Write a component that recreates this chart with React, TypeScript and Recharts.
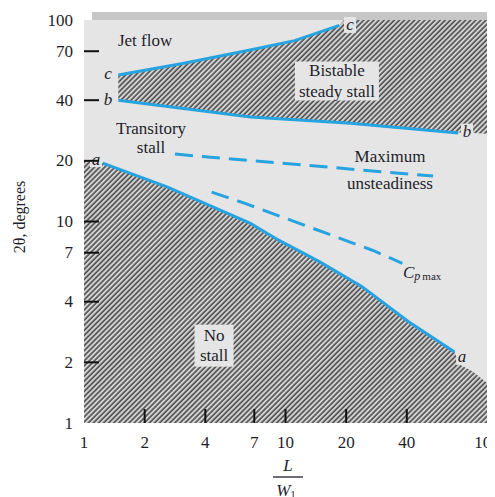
import { ComposedChart, Area, Line, XAxis, YAxis, CartesianGrid, ReferenceDot } from 'recharts';

const FONT = '"Liberation Serif", "Times New Roman", serif';
const INK = '#1e1e2a';
const PANEL = '#e5e5e5';
const SHADOW = '#c6c6c6';
const BLUE = '#27a4e0';

const xTicks = [1, 2, 4, 7, 10, 20, 40, 100];
const yTicks = [1, 2, 4, 7, 10, 20, 40, 70, 100];

// stall boundary lines (x = L/W1, y = 2θ in degrees)
const lineA = [
  { x: 1.24, y: 19.5 },
  { x: 2.6, y: 14.8 },
  { x: 6.7, y: 9.8 },
  { x: 9.2, y: 8.1 },
  { x: 14.8, y: 6.3 },
  { x: 24, y: 4.75 },
  { x: 40.5, y: 3.2 },
  { x: 69, y: 2.25 },
];
const lineB = [
  { x: 1.48, y: 40 },
  { x: 6.7, y: 33 },
  { x: 21, y: 30.7 },
  { x: 72, y: 27.5 },
];
const lineC = [
  { x: 1.48, y: 53.3 },
  { x: 3.13, y: 61 },
  { x: 6.67, y: 71 },
  { x: 11.1, y: 79 },
  { x: 18.5, y: 94 },
];
const maxUnsteadiness = [
  { x: 2.83, y: 21.6 },
  { x: 54, y: 16.8 },
];
const cpMax = [
  { x: 4.3, y: 14 },
  { x: 6.3, y: 12.3 },
  { x: 27, y: 7.2 },
  { x: 38, y: 6.2 },
];

// edges of the hatched regions
const noStallEdge = [
  { x: 1, y: 20 },
  ...lineA,
  { x: 73, y: 1.95 },
  { x: 85, y: 1.8 },
  { x: 100, y: 1.58 },
];
const bistableTop = [...lineC, { x: 19.5, y: 100 }, { x: 100, y: 100 }];
// plain panel below line b (hides the lower part of the hatch above)
const bistableBottom = [{ x: 1, y: 40 }, ...lineB, { x: 100, y: 27 }];

// region names
const notes = [
  { lines: ['Jet flow'], x: 2.01, y: 78.7, gap: 0, box: null },
  { lines: ['Transitory', 'stall'], x: 2.15, y: 26.1, gap: 19, box: null },
  { lines: ['Bistable', 'steady stall'], x: 18, y: 49.8, gap: 21, box: [84, 39] },
  { lines: ['Maximum', 'unsteadiness'], x: 33, y: 18.1, gap: 27, box: null },
  { lines: ['No', 'stall'], x: 4.42, y: 2.42, gap: 20, box: [39, 42] },
];
// curve letters
const letters = [
  { text: 'c', x: 1.315, y: 54 },
  { text: 'b', x: 1.315, y: 40.5 },
  { text: 'a', x: 1.147, y: 20.4 },
  { text: 'c', x: 20.9, y: 94.5 },
  { text: 'b', x: 79.6, y: 27.9 },
  { text: 'a', x: 75.2, y: 2.13 },
];

const YTick = ({ x, y, payload }: any) => (
  <g>
    {payload.value !== 1 && payload.value !== 100 && (
      <line x1={x} x2={x + 15} y1={y} y2={y} stroke="#111" strokeWidth={2} />
    )}
    <text x={x - 11} y={y} textAnchor="end" dominantBaseline="central" fontFamily={FONT} fontSize={17} fill={INK}>
      {payload.value}
    </text>
  </g>
);

const XTick = ({ x, y, payload }: any) => (
  <g>
    {payload.value !== 1 && payload.value !== 100 && (
      <line x1={x} x2={x} y1={y} y2={y - 14} stroke="#111" strokeWidth={2} />
    )}
    <text x={x} y={y + 19} textAnchor="middle" dominantBaseline="central" fontFamily={FONT} fontSize={17} fill={INK}>
      {payload.value}
    </text>
  </g>
);

const XTitle = () => (
  <g fontFamily={FONT} fill={INK}>
    <text x={280} y={457} textAnchor="middle" dominantBaseline="central" fontStyle="italic" fontSize={17}>
      L
    </text>
    <line x1={265} x2={295} y1={469} y2={469} stroke={INK} strokeWidth={1.3} />
    <text x={278} y={482} textAnchor="middle" dominantBaseline="central" fontStyle="italic" fontSize={17}>
      W<tspan fontStyle="normal" fontSize={11} dy={4}>1</tspan>
    </text>
  </g>
);

const YTitle = () => (
  <text
    x={11}
    y={209}
    transform="rotate(-90 11 209)"
    textAnchor="middle"
    dominantBaseline="central"
    fontFamily={FONT}
    fontSize={16}
    fill={INK}
  >
    2θ, degrees
  </text>
);

const noteShape = (n: any) => (p: any) => (
  <g fontFamily={FONT} fontSize={17} fill={INK}>
    {n.box && (
      <rect x={p.cx - n.box[0] / 2} y={p.cy - n.box[1] / 2} width={n.box[0]} height={n.box[1]} fill={PANEL} />
    )}
    {n.lines.map((t: string, i: number) => (
      <text
        key={i}
        x={p.cx}
        y={p.cy + (i - (n.lines.length - 1) / 2) * n.gap}
        textAnchor="middle"
        dominantBaseline="central"
      >
        {t}
      </text>
    ))}
  </g>
);

const letterShape = (t: string) => (p: any) => (
  <g>
    <rect x={p.cx - 6} y={p.cy - 8} width={12} height={16} fill={PANEL} />
    <text x={p.cx} y={p.cy} textAnchor="middle" dominantBaseline="central" fontFamily={FONT} fontStyle="italic" fontSize={17} fill={INK}>
      {t}
    </text>
  </g>
);

const cpShape = (p: any) => (
  <text x={p.cx} y={p.cy} dominantBaseline="central" fontFamily={FONT} fontSize={17} fill={INK}>
    <tspan fontStyle="italic">C</tspan>
    <tspan fontStyle="italic" fontSize={12} dy={4}>p</tspan>
    <tspan fontSize={11} dx={2}>max</tspan>
  </text>
);

const App = () => {
  return (
    <div style={{ position: 'relative', width: 487, height: 489 }}>
      <div style={{ position: 'absolute', left: 84, top: 4, width: 403, height: 361, background: SHADOW }} />
      <ComposedChart width={487} height={489} margin={{ top: 12, right: 8, bottom: 0, left: 0 }}>
        <defs>
          <pattern id="hatch" patternUnits="userSpaceOnUse" width={3.6} height={3.6} patternTransform="rotate(45)">
            <rect width={3.6} height={3.6} fill="#d2d2d2" />
            <line x1={1} x2={1} y1={0} y2={3.6} stroke="#4e4e4e" strokeWidth={1.6} />
          </pattern>
        </defs>
        <CartesianGrid fill={PANEL} horizontal={false} vertical={false} />
        <XAxis
          dataKey="x"
          type="number"
          scale="log"
          domain={[1, 100]}
          allowDataOverflow
          ticks={xTicks}
          interval={0}
          tick={<XTick />}
          tickLine={false}
          axisLine={false}
          tickSize={0}
          tickMargin={0}
          height={74}
          label={<XTitle />}
        />
        <YAxis
          dataKey="y"
          type="number"
          scale="log"
          domain={[1, 100]}
          allowDataOverflow
          ticks={yTicks}
          interval={0}
          tick={<YTick />}
          tickLine={false}
          axisLine={false}
          tickSize={0}
          tickMargin={0}
          width={76}
          label={<YTitle />}
        />
        <Area data={bistableTop} dataKey="y" type="linear" baseValue={1} fill="url(#hatch)" fillOpacity={1} stroke="none" dot={false} activeDot={false} isAnimationActive={false} />
        <Area data={bistableBottom} dataKey="y" type="linear" baseValue={1} fill={PANEL} fillOpacity={1} stroke={PANEL} strokeWidth={1.5} dot={false} activeDot={false} isAnimationActive={false} />
        <Area data={noStallEdge} dataKey="y" type="linear" baseValue={1} fill="url(#hatch)" fillOpacity={1} stroke="none" dot={false} activeDot={false} isAnimationActive={false} />
        <Line data={lineA} dataKey="y" type="linear" stroke={BLUE} strokeWidth={3} dot={false} activeDot={false} isAnimationActive={false} />
        <Line data={lineB} dataKey="y" type="linear" stroke={BLUE} strokeWidth={3} dot={false} activeDot={false} isAnimationActive={false} />
        <Line data={lineC} dataKey="y" type="linear" stroke={BLUE} strokeWidth={3} dot={false} activeDot={false} isAnimationActive={false} />
        <Line data={maxUnsteadiness} dataKey="y" type="linear" stroke={BLUE} strokeWidth={3} strokeDasharray="18 9" dot={false} activeDot={false} isAnimationActive={false} />
        <Line data={cpMax} dataKey="y" type="linear" stroke={BLUE} strokeWidth={3} strokeDasharray="18 9" dot={false} activeDot={false} isAnimationActive={false} />
        {notes.map((n, i) => (
          <ReferenceDot key={'n' + i} x={n.x} y={n.y} r={0} shape={noteShape(n)} />
        ))}
        {letters.map((l, i) => (
          <ReferenceDot key={'l' + i} x={l.x} y={l.y} r={0} shape={letterShape(l.text)} />
        ))}
        <ReferenceDot x={38.3} y={5.62} r={0} shape={cpShape} />
      </ComposedChart>
    </div>
  );
};

export default App;
